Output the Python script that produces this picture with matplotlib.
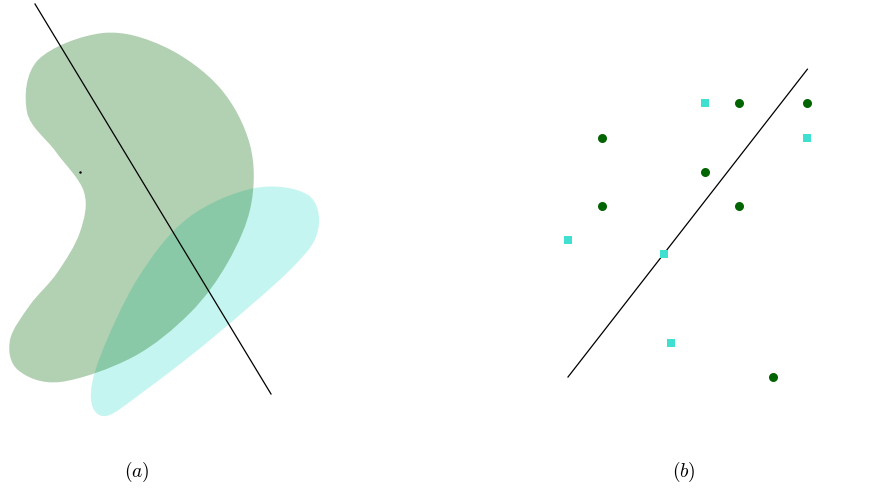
import numpy as np
import matplotlib.pyplot as plt
from matplotlib.path import Path
from matplotlib.patches import PathPatch

plt.rcParams['mathtext.fontset'] = 'cm'

# ---- panel (a): shapes, pixel-like units (y down)
blob_x = [103, 165, 220, 250, 251, 228, 190, 133, 60, 18, 10, 30, 57, 80, 84, 56, 27, 38]
blob_y = [33, 47, 88, 145, 205, 262, 313, 357, 382, 370, 340, 305, 273, 232, 192, 152, 112, 60]

egg_x = [255, 308, 318, 292, 210, 143, 106, 91, 100, 138, 188]
egg_y = [188, 195, 230, 268, 340, 392, 416, 400, 357, 278, 218]

line_a_x = [35, 271]
line_a_y = [4, 394]

# ---- panel (b): grid units
green_x = [1, 5, 7, 4, 1, 5, 6]
green_y = [7, 8, 8, 6, 5, 5, 0]
cyan_x = [4, 7, 0, 2.8, 3, 9]
cyan_y = [8, 7, 4, 3.6, 1, 6]
line_b_x = [0, 7]
line_b_y = [0, 9]


def smooth_path(xs, ys):
    # closed catmull-rom -> cubic bezier
    P = np.column_stack([xs, ys]).astype(float)
    n = len(P)
    verts = [P[0]]
    codes = [Path.MOVETO]
    for i in range(n):
        p0, p1, p2, p3 = P[i-1], P[i], P[(i+1) % n], P[(i+2) % n]
        verts += [p1 + (p2-p0)/6, p2 - (p3-p1)/6, p2]
        codes += [Path.CURVE4]*3
    verts.append(P[0])
    codes.append(Path.CLOSEPOLY)
    return Path(verts, codes)


fig = plt.figure(figsize=(8.72, 4.91), dpi=100)

ax1 = fig.add_axes([0, 0, 0.5, 1])
ax1.set_xlim(0, 436)
ax1.set_ylim(491, 0)
ax1.axis('off')
ax1.add_patch(PathPatch(smooth_path(egg_x, egg_y), facecolor='turquoise', alpha=0.3, lw=0))
ax1.add_patch(PathPatch(smooth_path(blob_x, blob_y), facecolor='darkgreen', alpha=0.3, lw=0))
ax1.plot(line_a_x, line_a_y, color='black', lw=0.9)
ax1.plot([80], [172], 'k.', ms=1.5)
ax1.text(137, 472, r'$(a)$', ha='center', va='center', fontsize=14)

u = 34.2
ax2 = fig.add_axes([0.5, 0, 0.5, 1])
ax2.set_xlim((436-568)/u, (872-568)/u)
ax2.set_ylim((377-491)/u, 377/u)
ax2.axis('off')
ax2.plot(line_b_x, line_b_y, color='black', lw=0.9)
ax2.scatter(green_x, green_y, s=42, color='darkgreen', marker='o', lw=0, clip_on=False, zorder=3)
ax2.scatter(cyan_x, cyan_y, s=38, color='turquoise', marker='s', lw=0, clip_on=False, zorder=3)
ax2.text((684-568)/u, (377-472)/u, r'$(b)$', ha='center', va='center', fontsize=14)

fig.savefig('out.png', dpi=100)
